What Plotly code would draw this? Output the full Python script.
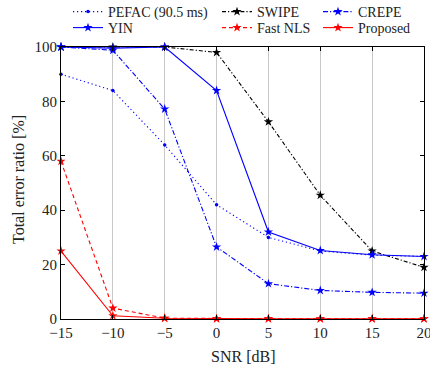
import plotly.graph_objects as go

snr = [-15, -10, -5, 0, 5, 10, 15, 20]
pefac = [90, 84, 64, 42, 30, 25, 23.5, 23]
swipe = [100, 100, 100, 98, 72.5, 45.5, 25, 19]
crepe = [100, 98.8, 77.2, 26.5, 13, 10.5, 9.8, 9.5]
yin = [100, 99.6, 100, 84, 32, 25.2, 23.6, 23]
fastnls = [58, 4, 0.3, 0.1, 0.1, 0.1, 0.1, 0.1]
proposed = [25, 1.2, 0.3, 0.1, 0.1, 0.1, 0.1, 0.1]

xticks = [-15, -10, -5, 0, 5, 10, 15, 20]
xticklabels = ["\u221215", "\u221210", "\u22125", "0", "5", "10", "15", "20"]
yticks = [0, 20, 40, 60, 80, 100]

FONT = "Liberation Serif, DejaVu Serif, serif"
BLUE = "#0000ff"
RED = "#ff0000"
BLACK = "#000000"

fig = go.Figure()

def add(name, y, color, dash, symbol, msize, legend):
    fig.add_trace(go.Scatter(
        x=snr, y=y, name=name, mode="lines+markers",
        line=dict(color=color, dash=dash, width=1.1),
        marker=dict(symbol=symbol, size=msize, color=color, line=dict(width=0)),
        cliponaxis=False, legend=legend, showlegend=True,
    ))

add("PEFAC (90.5 ms)", pefac, BLUE, "1.2px,2.8px", "circle", 3.5, "legend")
add("SWIPE", swipe, BLACK, "4px,2px,1.2px,2px", "star", 7, "legend2")
add("CREPE", crepe, BLUE, "5px,2px,1.2px,2px", "star", 7, "legend3")
add("YIN", yin, BLUE, "solid", "star", 7, "legend4")
add("Fast NLS", fastnls, RED, "4px,3px", "star", 7, "legend5")
add("Proposed", proposed, RED, "solid", "star", 7, "legend6")

def leg(x, y):
    return dict(
        orientation="v", xref="container", yref="container",
        x=x, y=y, xanchor="left", yanchor="middle",
        bgcolor="rgba(0,0,0,0)", font=dict(family=FONT, size=14, color="#222"),
        itemwidth=30, tracegroupgap=0,
    )

row1 = 1 - 12 / 369
row2 = 1 - 28 / 369
c1, c2, c3 = 68 / 430, 217 / 430, 318 / 430

L, R, T, B = 61, 6, 47, 50
pw, ph = 430 - L - R, 369 - T - B

fig.update_layout(
    width=430, height=369, showlegend=True,
    margin=dict(l=L, r=R, t=T, b=B, autoexpand=False),
    paper_bgcolor="white", plot_bgcolor="white",
    font=dict(family=FONT, size=15, color="#222"),
    legend=leg(c1, row1),
    legend2=leg(c2, row1),
    legend3=leg(c3, row1),
    legend4=leg(c1, row2),
    legend5=leg(c2, row2),
    legend6=leg(c3, row2),
    xaxis=dict(
        range=[-15, 20], tickvals=xticks, ticktext=xticklabels,
        showgrid=True, gridcolor="#c8c8c8", gridwidth=1,
        showline=True, linecolor="black", linewidth=1, mirror="ticks",
        ticks="inside", ticklen=4, tickcolor="black",
        zeroline=False, ticklabeloverflow="allow",
        tickfont=dict(family=FONT, size=15),
    ),
    yaxis=dict(
        range=[0, 100], tickvals=yticks,
        showgrid=False,
        showline=True, linecolor="black", linewidth=1, mirror="ticks",
        ticks="inside", ticklen=4, tickcolor="black",
        zeroline=False,
        tickfont=dict(family=FONT, size=15),
    ),
    annotations=[
        dict(text="SNR [dB]", xref="paper", yref="paper",
             x=0.5, y=-(356 - T - ph) / ph,
             xanchor="center", yanchor="middle", showarrow=False,
             font=dict(family=FONT, size=16, color="#222")),
        dict(text="Total error ratio [%]", xref="paper", yref="paper",
             x=-(L - 18) / pw, y=0.5 - (180 - (T + ph / 2)) / ph,
             xanchor="center", yanchor="middle", textangle=-90, showarrow=False,
             font=dict(family=FONT, size=16, color="#222")),
    ],
)

fig.write_html("out.html")
